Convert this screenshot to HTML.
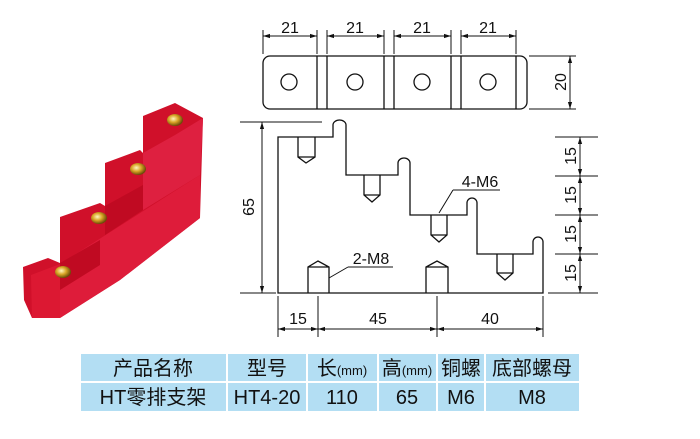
<!DOCTYPE html>
<html><head><meta charset="utf-8"><style>
html,body{margin:0;padding:0;background:#fff;width:700px;height:439px;overflow:hidden}
svg{position:absolute;left:0;top:0}
text{font-family:"Liberation Sans",Arial,sans-serif;fill:#111}
.t{font-family:"Liberation Sans","Noto Sans CJK SC",sans-serif}
</style></head><body>
<svg width="700" height="439" viewBox="0 0 700 439">
<defs>
<marker id="a" viewBox="0 0 10 10" refX="10" refY="5" markerWidth="7" markerHeight="7" orient="auto-start-reverse"><path d="M0,2 L10,5 L0,8z" fill="#111"/></marker>
<radialGradient id="g" cx="40%" cy="40%" r="60%"><stop offset="0" stop-color="#fff6c0"/><stop offset="0.5" stop-color="#d9a526"/><stop offset="1" stop-color="#6b4a08"/></radialGradient>
</defs>
<g>
<polygon points="23,267 48,258 60,263 60,217 100,203 105,206 105,163 140,150 143,153 143,116 175,103 203,118 200,218 120,280 60,318 32,318 24,300" fill="#d0102a"/>
<polygon points="31,275 60,264 60,318 32,318" fill="#dc1832"/>
<polygon points="60,264 200,175 200,218 120,280 60,318" fill="#de1c3a"/>
<polygon points="143,153 175,135 203,118 200,175 143,210" fill="#de2040"/>
<polygon points="105,206 143,185 143,210 105,235" fill="#c00a22"/>
<polygon points="60,263 100,240 100,265 60,290" fill="#c00a22"/>
<ellipse cx="63" cy="272" rx="8" ry="6" fill="url(#g)"/>
<ellipse cx="99" cy="218" rx="8" ry="6" fill="url(#g)"/>
<ellipse cx="138" cy="169" rx="8" ry="6" fill="url(#g)"/>
<ellipse cx="175" cy="120" rx="8" ry="6" fill="url(#g)"/>
</g>
<g stroke="#111" stroke-width="1.3" fill="none">
<rect x="263" y="56" width="264" height="53" rx="7"/>
<line x1="317" y1="56" x2="317" y2="109"/><line x1="327" y1="56" x2="327" y2="109"/>
<line x1="384" y1="56" x2="384" y2="109"/><line x1="394" y1="56" x2="394" y2="109"/>
<line x1="451" y1="56" x2="451" y2="109"/><line x1="461" y1="56" x2="461" y2="109"/>
<line x1="516" y1="56" x2="516" y2="109"/>
<circle cx="289" cy="82" r="8"/><circle cx="355" cy="82" r="8"/><circle cx="422" cy="82" r="8"/><circle cx="488" cy="82" r="8"/>
<g stroke-width="1">
<line x1="263" y1="30" x2="263" y2="54"/><line x1="317" y1="30" x2="317" y2="54"/>
<line x1="327" y1="30" x2="327" y2="54"/><line x1="384" y1="30" x2="384" y2="54"/>
<line x1="394" y1="30" x2="394" y2="54"/><line x1="451" y1="30" x2="451" y2="54"/>
<line x1="461" y1="30" x2="461" y2="54"/><line x1="516" y1="30" x2="516" y2="54"/>
<line x1="263" y1="36" x2="317" y2="36" marker-start="url(#a)" marker-end="url(#a)"/>
<line x1="327" y1="36" x2="384" y2="36" marker-start="url(#a)" marker-end="url(#a)"/>
<line x1="394" y1="36" x2="451" y2="36" marker-start="url(#a)" marker-end="url(#a)"/>
<line x1="461" y1="36" x2="516" y2="36" marker-start="url(#a)" marker-end="url(#a)"/>
<line x1="529" y1="56" x2="576" y2="56"/><line x1="529" y1="109" x2="576" y2="109"/>
<line x1="570" y1="56" x2="570" y2="109" marker-start="url(#a)" marker-end="url(#a)"/>
</g>
<path d="M278,293 L278,137 L333,137 L333,125 A6.5,5 0 0 1 346,125 L346,175 L398,175 L398,163 A6,5 0 0 1 410,163 L410,215 L467,215 L467,203 A5,5 0 0 1 477,203 L477,254 L533,254 L533,242 A5,5 0 0 1 543,242 L543,293 Z"/>
<path d="M298,137 L298,157 L306,163 L315,157 L315,137 M298,157 L315,157"/>
<path d="M364,175 L364,195 L372,202 L380,195 L380,175 M364,195 L380,195"/>
<path d="M431,215 L431,235 L439,242 L447,235 L447,215 M431,235 L447,235"/>
<path d="M497,254 L497,273 L505,280 L513,273 L513,254 M497,273 L513,273"/>
<path d="M308,293 L308,267 L318,261 L329,267 L329,293 M308,267 L329,267"/>
<path d="M426,293 L426,267 L437,261 L448,267 L448,293 M426,267 L448,267"/>
<g stroke-width="1">
<path d="M453,190 L500,190 M453,190 L439,213"/>
<path d="M348,267 L393,267 M348,267 L329,278"/>
<line x1="240" y1="122" x2="322" y2="122"/><line x1="240" y1="293" x2="276" y2="293"/>
<line x1="262" y1="122" x2="262" y2="293" marker-start="url(#a)" marker-end="url(#a)"/>
<line x1="555" y1="137" x2="598" y2="137"/><line x1="555" y1="176" x2="598" y2="176"/>
<line x1="555" y1="215" x2="598" y2="215"/><line x1="555" y1="254" x2="598" y2="254"/>
<line x1="548" y1="293" x2="598" y2="293"/>
<line x1="580" y1="137" x2="580" y2="176" marker-start="url(#a)" marker-end="url(#a)"/>
<line x1="580" y1="176" x2="580" y2="215" marker-start="url(#a)" marker-end="url(#a)"/>
<line x1="580" y1="215" x2="580" y2="254" marker-start="url(#a)" marker-end="url(#a)"/>
<line x1="580" y1="254" x2="580" y2="293" marker-start="url(#a)" marker-end="url(#a)"/>
<line x1="278" y1="296" x2="278" y2="337"/><line x1="318" y1="296" x2="318" y2="337"/>
<line x1="437" y1="296" x2="437" y2="337"/><line x1="543" y1="296" x2="543" y2="337"/>
<line x1="278" y1="329" x2="318" y2="329" marker-start="url(#a)" marker-end="url(#a)"/>
<line x1="318" y1="329" x2="437" y2="329" marker-start="url(#a)" marker-end="url(#a)"/>
<line x1="437" y1="329" x2="543" y2="329" marker-start="url(#a)" marker-end="url(#a)"/>
</g>
</g>
<g font-size="16" text-anchor="middle">
<text x="290" y="33">21</text><text x="355" y="33">21</text><text x="422" y="33">21</text><text x="488" y="33">21</text>
<text transform="translate(566,82) rotate(-90)">20</text>
<text transform="translate(254,207) rotate(-90)">65</text>
<text transform="translate(576,156) rotate(-90)">15</text>
<text transform="translate(576,195) rotate(-90)">15</text>
<text transform="translate(576,234) rotate(-90)">15</text>
<text transform="translate(576,273) rotate(-90)">15</text>
<text x="298" y="324">15</text><text x="378" y="324">45</text><text x="490" y="324">40</text>
<text x="480" y="187">4-M6</text><text x="371" y="264">2-M8</text>
</g>
<g fill="#b3def3" stroke="#fff" stroke-width="2">
<rect x="80" y="353" width="147" height="29"/><rect x="227" y="353" width="80" height="29"/>
<rect x="307" y="353" width="71" height="29"/><rect x="378" y="353" width="59" height="29"/>
<rect x="437" y="353" width="48" height="29"/><rect x="485" y="353" width="95" height="29"/>
<rect x="80" y="382" width="147" height="30"/><rect x="227" y="382" width="80" height="30"/>
<rect x="307" y="382" width="71" height="30"/><rect x="378" y="382" width="59" height="30"/>
<rect x="437" y="382" width="48" height="30"/><rect x="485" y="382" width="95" height="30"/>
</g>
<g class="t" font-size="20" text-anchor="middle">
<text class="t" x="153" y="375">产品名称</text>
<text class="t" x="267" y="375">型号</text>
<text class="t" x="342" y="375">长<tspan font-size="13">(mm)</tspan></text>
<text class="t" x="407" y="375">高<tspan font-size="13">(mm)</tspan></text>
<text class="t" x="461" y="375">铜螺</text>
<text class="t" x="532" y="375">底部螺母</text>
<text class="t" x="153" y="404">HT零排支架</text>
<text class="t" x="267" y="404">HT4-20</text>
<text class="t" x="342" y="404">110</text>
<text class="t" x="407" y="404">65</text>
<text class="t" x="461" y="404">M6</text>
<text class="t" x="532" y="404">M8</text>
</g>
</svg>
</body></html>
